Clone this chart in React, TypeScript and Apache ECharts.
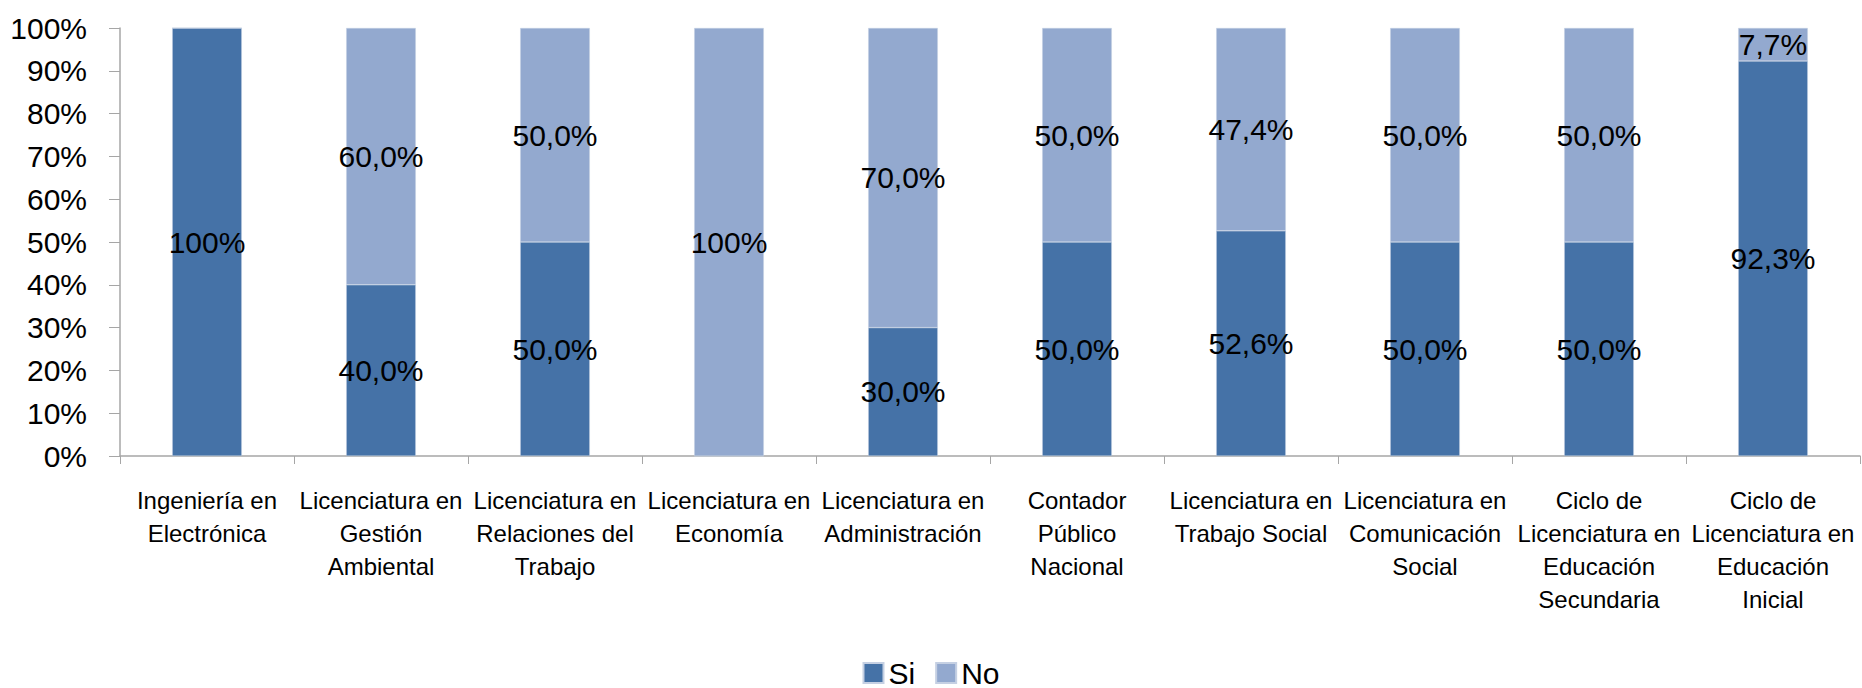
import React, { useEffect, useRef } from "react";
import * as echarts from "echarts";

const categories = [
  "Ingeniería en\nElectrónica",
  "Licenciatura en\nGestión\nAmbiental",
  "Licenciatura en\nRelaciones del\nTrabajo",
  "Licenciatura en\nEconomía",
  "Licenciatura en\nAdministración",
  "Contador\nPúblico\nNacional",
  "Licenciatura en\nTrabajo Social",
  "Licenciatura en\nComunicación\nSocial",
  "Ciclo de\nLicenciatura en\nEducación\nSecundaria",
  "Ciclo de\nLicenciatura en\nEducación\nInicial",
];
const siValues = [100, 40, 50, 0, 30, 50, 52.6, 50, 50, 92.3];
const noValues = [0, 60, 50, 100, 70, 50, 47.4, 50, 50, 7.7];
const yTicks = [0, 10, 20, 30, 40, 50, 60, 70, 80, 90, 100];

const FONT = "'Liberation Sans', Arial, sans-serif";

function fmt(v: number): string {
  if (v === 100) return "100%";
  return v.toFixed(1).replace(".", ",") + "%";
}

export default function App() {
  const ref = useRef<HTMLDivElement>(null);
  useEffect(() => {
    document.body.style.margin = "0";
    if (!ref.current) return;
    const chart = echarts.init(ref.current, undefined, { renderer: "svg" });
    const label = {
      show: true,
      position: "inside" as const,
      color: "#000",
      fontSize: 30,
      fontFamily: FONT,
      formatter: (p: any) => (p.value ? fmt(p.value) : ""),
    };
    chart.setOption({
      animation: false,
      grid: { left: 120, right: 2, top: 28, bottom: 232, containLabel: false },
      legend: {
        top: 651,
        left: "center",
        itemWidth: 20,
        itemHeight: 20,
        itemGap: 20,
        icon: "rect",
        textStyle: { fontSize: 30, lineHeight: 34, fontFamily: FONT, color: "#000" },
        data: ["Si", "No"],
      },
      xAxis: {
        type: "category",
        data: categories,
        axisLine: { lineStyle: { color: "#A6A6A6", width: 1.5 } },
        axisTick: { show: true, length: 8, alignWithLabel: false, lineStyle: { color: "#A6A6A6" } },
        axisLabel: {
          interval: 0,
          margin: 28,
          fontSize: 24,
          lineHeight: 33,
          fontFamily: FONT,
          color: "#000",
          align: "center",
        },
      },
      yAxis: {
        type: "value",
        min: 0,
        max: 100,
        interval: 10,
        splitLine: { show: false },
        axisLine: { show: true, lineStyle: { color: "#A6A6A6", width: 1.5 } },
        axisTick: { show: true, length: 11, lineStyle: { color: "#A6A6A6" } },
        axisLabel: {
          margin: 33,
          fontSize: 30,
          fontFamily: FONT,
          color: "#000",
          formatter: (v: number) => (yTicks.includes(v) ? v + "%" : ""),
        },
      },
      series: [
        {
          name: "Si",
          type: "bar",
          stack: "total",
          barWidth: "40%",
          data: siValues,
          itemStyle: { color: "#4572A7", borderColor: "#C5D0E3", borderWidth: 0.5 },
          label,
        },
        {
          name: "No",
          type: "bar",
          stack: "total",
          barWidth: "40%",
          data: noValues,
          itemStyle: { color: "#93A9CF", borderColor: "#C5D0E3", borderWidth: 0.5 },
          label,
        },
      ],
    });
    return () => chart.dispose();
  }, []);
  return <div ref={ref} style={{ width: 1862, height: 688 }} />;
}
